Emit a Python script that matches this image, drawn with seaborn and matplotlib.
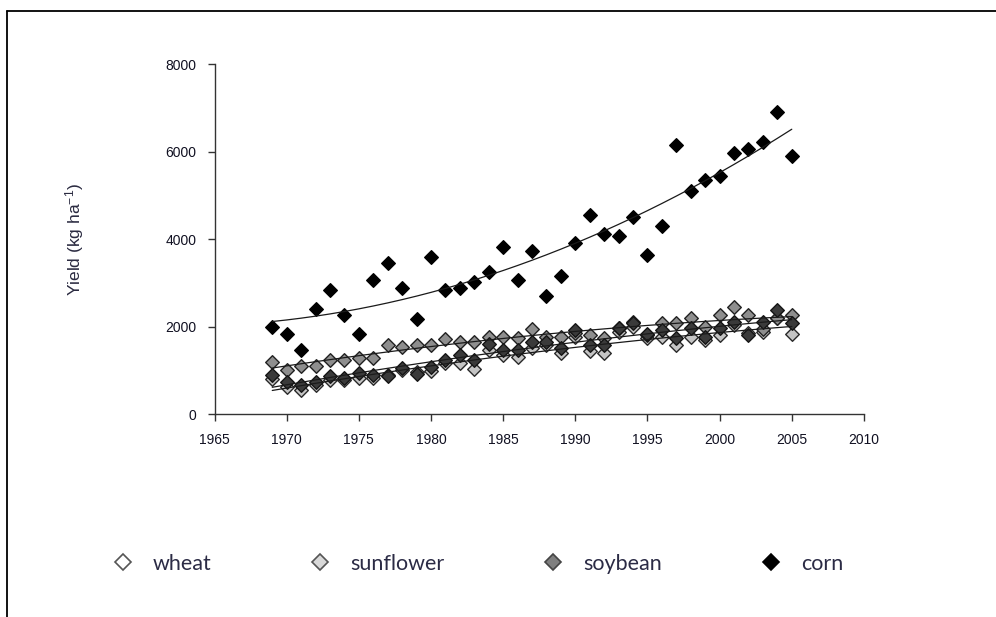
import numpy as np
import pandas as pd
import matplotlib
matplotlib.use("Agg")
import matplotlib.pyplot as plt
import seaborn as sns
from matplotlib.lines import Line2D

# ---------------- data ----------------
years = list(range(1969, 2006))
wheat = [810, 620, 550, 660, 780, 780, 820, 820, 900, 1000, 960, 980, 1160, 1160, 1040,
         1460, 1350, 1310, 1500, 1580, 1390, 1770, 1430, 1390, 1880, 2000, 1730, 1770,
         1580, 1770, 1690, 1810, 2030, 1850, 1880, 2190, 1840]
sunflower = [1190, 1000, 1090, 1100, 1240, 1240, 1280, 1280, 1570, 1530, 1570, 1570, 1720,
             1640, 1650, 1770, 1770, 1730, 1950, 1770, 1770, 1850, 1810, 1730, 1960, 2100,
             1800, 2070, 2070, 2190, 2000, 2260, 2450, 2270, 1950, 2190, 2260]
soybean = [890, 740, 660, 740, 870, 820, 930, 890, 870, 1060, 910, 1080, 1230, 1350, 1230,
           1610, 1460, 1460, 1650, 1650, 1500, 1920, 1580, 1580, 1960, 2070, 1840, 1920,
           1730, 1960, 1770, 1960, 2110, 1810, 2110, 2380, 2070]
corn = [1980, 1840, 1460, 2410, 2830, 2260, 1840, 3060, 3460, 2890, 2170, 3600, 2830, 2890,
        3030, 3250, 3820, 3060, 3730, 2700, 3160, 3920, 4550, 4110, 4070, 4500, 3640, 4300,
        6160, 5110, 5350, 5440, 5960, 6060, 6210, 6910, 5910]
crops = ["wheat", "sunflower", "soybean", "corn"]
x_ticks = [1965, 1970, 1975, 1980, 1985, 1990, 1995, 2000, 2005, 2010]
y_ticks = [0, 2000, 4000, 6000, 8000]
y_label = "Yield (kg ha$^{-1}$)"

series = {"wheat": wheat, "sunflower": sunflower, "soybean": soybean, "corn": corn}
df = pd.DataFrame({
    "year": years * 4,
    "yield": wheat + sunflower + soybean + corn,
    "crop": np.repeat(crops, len(years)),
})

# ---------------- style ----------------
sns.set_theme(style="white")
plt.rcParams["font.family"] = ["Liberation Sans", "DejaVu Sans"]
plt.rcParams["mathtext.fontset"] = "custom"
plt.rcParams["mathtext.rm"] = "Liberation Sans"
plt.rcParams["mathtext.default"] = "regular"

fills = {"wheat": "#c4c4c4", "sunflower": "#8e8e8e", "soybean": "#3a3a3a", "corn": "#000000"}
edges = {"wheat": "#2a2a2a", "sunflower": "#222222", "soybean": "#151515", "corn": "#000000"}
leg_fills = {"wheat": "#ffffff", "sunflower": "#d9d9d9", "soybean": "#7f7f7f", "corn": "#000000"}
leg_edges = {"wheat": "#555555", "sunflower": "#555555", "soybean": "#444444", "corn": "#000000"}

fig = plt.figure(figsize=(9.96, 6.17), dpi=100)
fig.patch.set_facecolor("white")
ax = fig.add_axes([0.2154, 0.329, 0.652, 0.567])
ax.set_facecolor("white")

for i, crop in enumerate(crops):
    sub = df[df["crop"] == crop]
    sns.scatterplot(data=sub, x="year", y="yield", marker="D", s=48,
                    color=fills[crop], edgecolor=edges[crop], linewidth=1.0,
                    ax=ax, legend=False, zorder=2 + i)

for crop in crops:
    coef = np.polyfit(years, series[crop], 2)
    fit = np.polyval(coef, years)
    sns.lineplot(x=years, y=fit, color="#1a1a1a", linewidth=0.9, ax=ax,
                 legend=False, zorder=10)

ax.set_xlim(1965, 2010)
ax.set_ylim(0, 8000)
ax.set_xticks(x_ticks)
ax.set_yticks(y_ticks)
ax.set_xticklabels([str(t) for t in x_ticks])
ax.set_yticklabels([str(t) for t in y_ticks])
ax.set_xlabel("")
ax.set_ylabel(y_label, fontsize=12.5, color="#2a2a40", labelpad=57)

for side in ["top", "right"]:
    ax.spines[side].set_visible(False)
for side in ["left", "bottom"]:
    ax.spines[side].set_color("#333333")
    ax.spines[side].set_linewidth(1.0)

ax.tick_params(axis="both", which="major", bottom=True, left=True, direction="out",
               length=5, width=1, color="#333333", labelsize=10, labelcolor="#111122")
ax.tick_params(axis="x", pad=9)
ax.tick_params(axis="y", pad=8)

# legend
handles = [Line2D([0], [0], marker="D", linestyle="none", markersize=8,
                  markerfacecolor=leg_fills[c], markeredgecolor=leg_edges[c],
                  markeredgewidth=1.2) for c in crops]
fig.legend(handles, crops, loc="center left", bbox_to_anchor=(0.095, 0.086),
           ncol=4, frameon=False, handlelength=0.8, handletextpad=1.0,
           columnspacing=4.65, prop={"family": ["Lato", "DejaVu Sans"], "size": 15.5},
           labelcolor="#2b2b45")

# outer frame (top and left edges)
fig.add_artist(Line2D([7 / 996, 1.0], [1 - 11 / 617] * 2, transform=fig.transFigure,
                      color="black", linewidth=1.3))
fig.add_artist(Line2D([7 / 996] * 2, [0, 1 - 11 / 617], transform=fig.transFigure,
                      color="black", linewidth=1.3))

fig.savefig("out.png", dpi=100, facecolor="white")
